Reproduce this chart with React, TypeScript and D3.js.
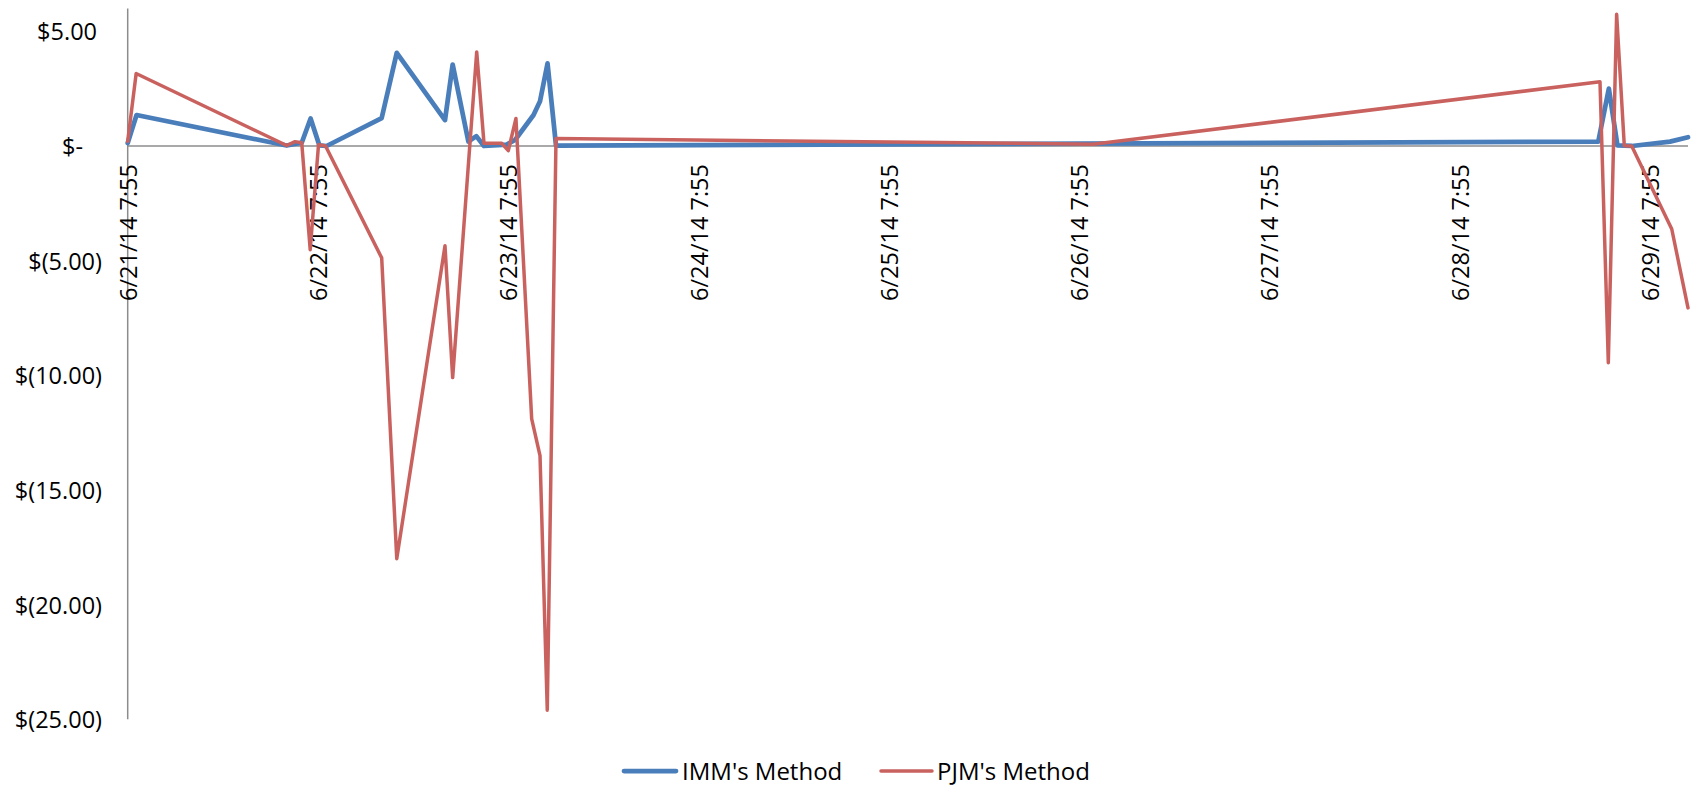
import React from "react";
import * as d3 from "d3";

const immTimes = [
  "2014-06-21 07:55", "2014-06-21 09:02", "2014-06-22 03:58", "2014-06-22 05:52",
  "2014-06-22 06:59", "2014-06-22 08:05", "2014-06-22 09:00", "2014-06-22 15:57",
  "2014-06-22 17:51", "2014-06-22 23:56", "2014-06-23 00:54", "2014-06-23 02:53",
  "2014-06-23 03:53", "2014-06-23 04:51", "2014-06-23 07:43", "2014-06-23 08:46",
  "2014-06-23 11:06", "2014-06-23 11:55", "2014-06-23 12:52", "2014-06-23 13:56",
  "2014-06-29 01:23", "2014-06-29 02:43", "2014-06-29 03:48", "2014-06-29 05:38",
  "2014-06-29 10:26", "2014-06-29 12:42",
];
const immValues = [
  0.13, 1.35, 0.02, 0.14, 1.2, 0.03, 0.0, 1.22, 4.06, 1.13, 3.55, 0.19, 0.43, 0.0,
  0.06, 0.26, 1.35, 1.95, 3.6, 0.02, 0.19, 2.5, 0.03, 0.0, 0.19, 0.38,
];

const pjmTimes = [
  "2014-06-21 07:55", "2014-06-21 08:59", "2014-06-22 03:58", "2014-06-22 05:01",
  "2014-06-22 05:52", "2014-06-22 06:56", "2014-06-22 07:59", "2014-06-22 08:52",
  "2014-06-22 15:57", "2014-06-22 17:51", "2014-06-22 23:56", "2014-06-23 00:54",
  "2014-06-23 03:56", "2014-06-23 04:51", "2014-06-23 07:05", "2014-06-23 07:55",
  "2014-06-23 08:53", "2014-06-23 10:52", "2014-06-23 11:55", "2014-06-23 12:50",
  "2014-06-23 13:56", "2014-06-26 09:39", "2014-06-29 01:36", "2014-06-29 02:39",
  "2014-06-29 03:42", "2014-06-29 04:40", "2014-06-29 05:36", "2014-06-29 10:39",
  "2014-06-29 12:42",
];
const pjmValues = [
  0.2, 3.16, 0.02, 0.19, 0.14, -4.52, 0.06, 0.0, -4.88, -18.0, -4.35, -10.1, 4.1,
  0.12, 0.12, -0.2, 1.2, -11.9, -13.5, -24.6, 0.33, 0.08, 2.8, -9.45, 5.74, 0.01,
  0.0, -3.62, -7.06,
];

const xTickDates = [
  "2014-06-21 07:55", "2014-06-22 07:55", "2014-06-23 07:55", "2014-06-24 07:55",
  "2014-06-25 07:55", "2014-06-26 07:55", "2014-06-27 07:55", "2014-06-28 07:55",
  "2014-06-29 07:55",
];
const yTickValues = [5, 0, -5, -10, -15, -20, -25];
const xDomainStrings = ["2014-06-21 07:55", "2014-06-29 12:42"];
const yDomainValues = [-25, 6];

const seriesNames = ["IMM's Method", "PJM's Method"];
const seriesColors = ["#4A7EBB", "#C9625F"];

const parse = d3.timeParse("%Y-%m-%d %H:%M");
const fmtDate = d3.timeFormat("%-m/%-d/%y %-H:%M");

function fmtMoney(v: number): string {
  if (v === 0) return "$-";
  const s = d3.format(".2f")(Math.abs(v));
  return v < 0 ? `$(${s})` : `$${s}`;
}

const FONT = "'Open Sans', sans-serif";

export default function App() {
  const W = 1692;
  const H = 785;
  const x = d3
    .scaleTime()
    .domain(xDomainStrings.map((s) => parse(s) as Date))
    .range([127.7, 1688]);
  const y = d3.scaleLinear().domain(yDomainValues).range([719.3, 8.4]);

  const line = d3
    .line<[Date, number]>()
    .x((d) => x(d[0]))
    .y((d) => y(d[1]));

  const imm: [Date, number][] = immTimes.map((t, i) => [parse(t) as Date, immValues[i]]);
  const pjm: [Date, number][] = pjmTimes.map((t, i) => [parse(t) as Date, pjmValues[i]]);

  const y0 = y(0);
  const [xl, xr] = x.range();

  return (
    <div style={{ position: "absolute", left: 0, top: 0 }}>
      <svg width={W} height={H} style={{ display: "block", background: "#fff" }}>
        {/* y axis labels */}
        {yTickValues.map((v) => (
          <text
            key={v}
            x={102 - (v > 0 ? 5 : v === 0 ? 19 : 0)}
            y={y(v)}
            textAnchor="end"
            dominantBaseline="central"
            fontFamily={FONT}
            fontSize={23.5}
            fill="#000"
          >
            {fmtMoney(v)}
          </text>
        ))}
        {/* axes */}
        <line x1={xl} x2={xl} y1={y(yDomainValues[1])} y2={y(yDomainValues[0])} stroke="#8c8c8c" strokeWidth={1.5} />
        <line x1={xl} x2={xr} y1={y0} y2={y0} stroke="#8c8c8c" strokeWidth={1.5} />
        {/* x labels */}
        {xTickDates.map((s) => {
          const d = parse(s) as Date;
          return (
            <text
              key={s}
              transform={`translate(${x(d)},${y0 + 18}) rotate(-90)`}
              textAnchor="end"
              dominantBaseline="central"
              fontFamily={FONT}
              fontSize={23.5}
              fill="#000"
            >
              {fmtDate(d)}
            </text>
          );
        })}
        {/* series */}
        <path d={line(imm) || ""} fill="none" stroke={seriesColors[0]} strokeWidth={4.75} strokeLinejoin="round" strokeLinecap="round" />
        <path d={line(pjm) || ""} fill="none" stroke={seriesColors[1]} strokeWidth={3.5} strokeLinejoin="round" strokeLinecap="round" />
        {/* legend */}
        <g fontFamily={FONT} fontSize={24}>
          <line x1={624} x2={676} y1={771} y2={771} stroke={seriesColors[0]} strokeWidth={4.75} strokeLinecap="round" />
          <text x={682} y={770} dominantBaseline="central">{seriesNames[0]}</text>
          <line x1={881} x2={932} y1={771} y2={771} stroke={seriesColors[1]} strokeWidth={3.5} strokeLinecap="round" />
          <text x={937} y={770} dominantBaseline="central">{seriesNames[1]}</text>
        </g>
      </svg>
    </div>
  );
}
